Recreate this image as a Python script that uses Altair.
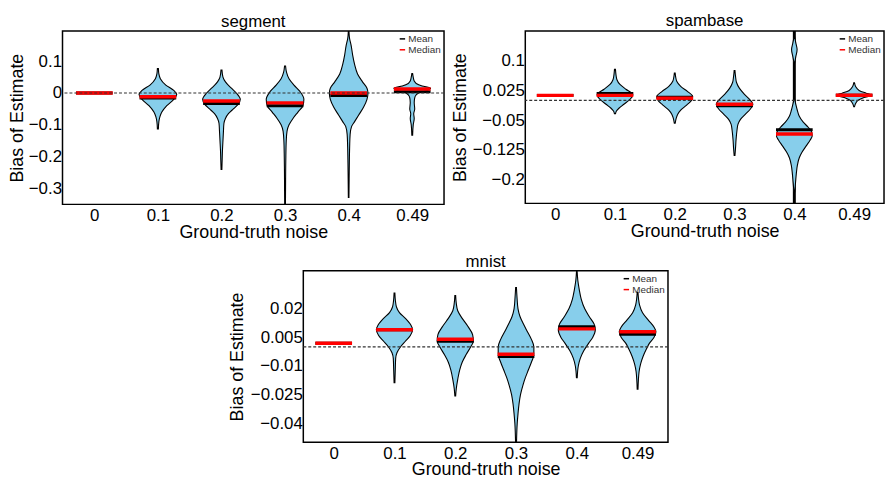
import altair as alt
import pandas as pd

FONT = "Liberation Sans"
categories = ["0", "0.1", "0.2", "0.3", "0.4", "0.49"]

# ---------------- segment ----------------
segment_mean = [0.0, -0.016, -0.033, -0.040, -0.008, 0.004]
segment_median = [0.0, -0.012, -0.025, -0.031, 0.0, 0.0125]
segment_y = [
    [],
    [0.077, 0.06, 0.045, 0.025, 0.008, -0.005, -0.02, -0.04, -0.06, -0.075, -0.09, -0.113],
    [0.072, 0.05, 0.035, 0.015, 0.0, -0.02, -0.035, -0.05, -0.065, -0.08, -0.095, -0.12, -0.15, -0.18, -0.21, -0.24],
    [0.085, 0.065, 0.045, 0.025, 0.005, -0.02, -0.04, -0.06, -0.08, -0.1, -0.12, -0.15, -0.2, -0.25, -0.3, -0.35],
    [0.195, 0.17, 0.15, 0.12, 0.09, 0.06, 0.035, 0.015, 0.0, -0.02, -0.045, -0.07, -0.09, -0.105, -0.13, -0.17, -0.22, -0.27, -0.328],
    [0.061, 0.05, 0.038, 0.03, 0.022, 0.015, 0.008, 0.002, -0.006, -0.015, -0.03, -0.05, -0.065, -0.08, -0.1, -0.133],
]
segment_w = [
    [],
    [0.5, 1, 2.5, 8, 16, 19, 16, 9, 4, 2, 1, 0.5],
    [0.5, 1.5, 4, 10, 15, 19, 17, 12, 7, 4, 2.5, 2, 1.5, 1, 0.7, 0.4],
    [0.5, 1.5, 4, 9, 15, 19, 18, 13, 8, 4, 2, 1.2, 0.8, 0.6, 0.5, 0.4],
    [0.3, 1, 2.5, 4, 6, 9, 14, 18.5, 19.5, 18.5, 15, 10, 6, 3, 1.5, 1, 0.7, 0.5, 0.3],
    [0.4, 1, 2, 4, 10, 18.5, 15, 8, 4, 2.5, 2, 2.5, 1.5, 2, 1, 0.4],
]

# ---------------- spambase ----------------
spambase_mean = [0.0125, 0.0175, 0.0075, -0.014, -0.074, 0.013]
spambase_median = [0.0125, 0.0125, 0.005, -0.01, -0.085, 0.013]
spambase_y = [
    [],
    [0.078, 0.065, 0.052, 0.04, 0.028, 0.018, 0.012, 0.0, -0.01, -0.02, -0.027, -0.034],
    [0.069, 0.058, 0.048, 0.035, 0.022, 0.01, 0.0, -0.012, -0.025, -0.035, -0.045, -0.058],
    [0.075, 0.06, 0.045, 0.03, 0.015, 0.0, -0.01, -0.022, -0.035, -0.048, -0.06, -0.075, -0.1, -0.12, -0.139],
    [0.003, -0.01, -0.025, -0.04, -0.055, -0.068, -0.08, -0.09, -0.1, -0.115, -0.13, -0.145, -0.165, -0.185, -0.205, -0.231],
    [0.044, 0.035, 0.025, 0.018, 0.013, 0.007, 0.0, -0.008, -0.016],
]
spambase_w = [
    [],
    [0.5, 1, 2, 5, 11, 17, 18, 14, 9, 4, 1.5, 0.5],
    [0.4, 1, 2, 6, 13, 18, 17, 12, 6, 3, 1.5, 0.4],
    [0.4, 1, 2, 5, 10, 16, 18.5, 16, 11, 6, 3.5, 2.5, 1.5, 1, 0.4],
    [0.3, 1.5, 3, 5, 9, 14, 17.5, 18, 16, 12, 8, 5, 3, 2, 1.3, 0.4],
    [0.4, 1.5, 5, 12, 17.7, 10, 4, 1.5, 0.4],
]
# detached upper blob of the 0.4 violin and its full-height whisker
spambase_blob_y = [0.16, 0.145, 0.128, 0.11, 0.094]
spambase_blob_w = [0.3, 1.5, 2.8, 1.5, 0.3]
spambase_whisker = [4, -0.26, 0.175]

# ---------------- mnist ----------------
mnist_mean = [0.002, 0.009, 0.003, -0.005, 0.0106, 0.0067]
mnist_median = [0.002, 0.009, 0.004, -0.0038, 0.0095, 0.008]
mnist_y = [
    [],
    [0.0283, 0.024, 0.021, 0.018, 0.015, 0.0115, 0.009, 0.006, 0.003, 0.0, -0.003, -0.006, -0.012, -0.0188],
    [0.027, 0.023, 0.019, 0.015, 0.011, 0.0065, 0.003, 0.0, -0.004, -0.008, -0.012, -0.017, -0.022, -0.0257],
    [0.0312, 0.026, 0.02, 0.016, 0.012, 0.008, 0.004, 0.0, -0.004, -0.008, -0.012, -0.016, -0.02, -0.025, -0.03, -0.035, -0.04, -0.0498],
    [0.0398, 0.035, 0.03, 0.025, 0.02, 0.016, 0.012, 0.009, 0.005, 0.002, -0.002, -0.006, -0.01, -0.0162],
    [0.0287, 0.025, 0.022, 0.018, 0.014, 0.0105, 0.008, 0.005, 0.002, -0.001, -0.005, -0.009, -0.013, -0.0222],
]
mnist_w = [
    [],
    [0.4, 1, 2, 5, 11, 16.5, 18.3, 16, 11, 6, 2.5, 1.2, 0.8, 0.4],
    [0.4, 1, 2.5, 7, 12.5, 17.5, 18.3, 15.5, 11, 7, 4.5, 2.5, 1, 0.4],
    [0.4, 1, 2, 4, 7.5, 11.5, 15.5, 18, 18, 15.5, 12.5, 9.5, 7, 4.5, 3, 2, 1.2, 0.5],
    [0.3, 1, 2.5, 4.5, 8, 12.5, 17.5, 18.7, 16, 12, 7, 3.5, 1.5, 0.4],
    [0.4, 1, 2, 5, 11, 16.5, 18.5, 16.5, 12, 9, 5.5, 3, 1.5, 0.4],
]

LINE_HALF_PX = 18.5
FILL = "#87CEEB"
label_expr = "[" + ",".join("'%s'" % c for c in categories) + "][datum.value]"


def panel(name, ys, ws, means, medians, domain, ticks, width, height, title_x,
          blob=None, whisker=None):
    band = width / len(categories)
    rows = []
    for i, (yv, wv) in enumerate(zip(ys, ws)):
        for y, w in zip(yv, wv):
            rows.append({"piece": str(i), "y": y, "xl": i - w / band, "xr": i + w / band})
    if blob is not None:
        bi, by, bw = blob
        for y, w in zip(by, bw):
            rows.append({"piece": "blob", "y": y, "xl": bi - w / band, "xr": bi + w / band})
    vdf = pd.DataFrame(rows)

    hw = LINE_HALF_PX / band
    sdf = pd.DataFrame(
        [{"stat": "Mean", "y": m, "x1": i - hw, "x2": i + hw} for i, m in enumerate(means)]
        + [{"stat": "Median", "y": m, "x1": i - hw, "x2": i + hw} for i, m in enumerate(medians)]
    )

    xscale = alt.Scale(domain=[-0.5, len(categories) - 0.5], nice=False, zero=False)
    yscale = alt.Scale(domain=domain, nice=False, zero=False)
    xaxis = alt.Axis(values=list(range(len(categories))), labelExpr=label_expr,
                     title="Ground-truth noise", labelPadding=3, ticks=False, domain=False,
                     grid=False, labelFontSize=17, titleFontSize=18, labelFont=FONT,
                     titleFont=FONT, titleFontWeight="normal", labelColor="black",
                     titleColor="black", titleY=33, titleBaseline="alphabetic")
    yaxis = alt.Axis(values=ticks, format=".3~f", title="Bias of Estimate", labelPadding=1,
                     ticks=False, domain=False, grid=False, labelFontSize=17, titleFontSize=18,
                     labelFont=FONT, titleFont=FONT, titleFontWeight="normal",
                     labelColor="black", titleColor="black", titleX=title_x,
                     titleBaseline="alphabetic")

    violins = alt.Chart(vdf).mark_area(
        orient="horizontal", interpolate="monotone", fill=FILL, stroke="black",
        strokeWidth=1.1, clip=True
    ).encode(
        y=alt.Y("y:Q", scale=yscale, axis=yaxis),
        x=alt.X("xl:Q", scale=xscale, axis=xaxis),
        x2="xr:Q",
        detail="piece:N",
    )

    color = alt.Color("stat:N", scale=alt.Scale(domain=["Mean", "Median"], range=["black", "red"]),
                      legend=alt.Legend(orient="top-right", title=None, symbolType="stroke",
                                        symbolSize=30, symbolStrokeWidth=1.5, labelFontSize=10,
                                        labelFont=FONT, labelColor="#333", rowPadding=1,
                                        offset=3, padding=0, labelOffset=1))
    mean_rule = alt.Chart(sdf[sdf.stat == "Mean"]).mark_rule(strokeWidth=3).encode(
        y="y:Q", x="x1:Q", x2="x2:Q", color=color)
    med_rule = alt.Chart(sdf[sdf.stat == "Median"]).mark_rule(strokeWidth=3.5).encode(
        y="y:Q", x="x1:Q", x2="x2:Q", color=color)
    zero = alt.Chart(pd.DataFrame({"z": [0.0]})).mark_rule(
        strokeDash=[3, 2], strokeWidth=1.2, color="#333").encode(y="z:Q")

    layers = []
    if whisker is not None:
        wdf = pd.DataFrame({"x": [whisker[0]], "lo": [whisker[1]], "hi": [whisker[2]]})
        layers.append(alt.Chart(wdf).mark_rule(strokeWidth=3, color="black").encode(
            x=alt.X("x:Q", scale=xscale, axis=xaxis),
            y=alt.Y("lo:Q", scale=yscale, axis=yaxis), y2="hi:Q"))
    layers += [violins, mean_rule, med_rule, zero]
    return alt.layer(*layers).properties(
        width=width, height=height,
        title=alt.TitleParams(name, fontSize=17, font=FONT, fontWeight="normal",
                              color="black", offset=0),
    )


seg = panel("segment", segment_y, segment_w, segment_mean, segment_median,
            [-0.35, 0.195], [-0.3, -0.2, -0.1, 0, 0.1], 385, 175, -40)
spam = panel("spambase", spambase_y, spambase_w, spambase_mean, spambase_median,
             [-0.26, 0.175], [-0.2, -0.125, -0.05, 0.025, 0.1], 362, 174, -60,
             blob=(4, spambase_blob_y, spambase_blob_w), whisker=spambase_whisker)
mn = panel("mnist", mnist_y, mnist_w, mnist_mean, mnist_median,
           [-0.05, 0.04], [-0.04, -0.025, -0.01, 0.005, 0.02], 368, 173, -61)

# invisible spacer that places the bottom panel in the middle of the page
spacer = alt.Chart(pd.DataFrame({"a": [0]})).mark_point(opacity=0).encode(
    x=alt.X("a:Q", axis=None), y=alt.Y("a:Q", axis=None)
).properties(width=166, height=10, view=alt.ViewBackground(stroke="transparent"))

top = alt.hconcat(seg, spam, spacing=5).resolve_scale(color="independent").resolve_legend(color="independent")
bottom = alt.hconcat(spacer, mn, spacing=0).resolve_scale(color="independent").resolve_legend(color="independent")
chart = alt.vconcat(top, bottom, spacing=10).resolve_scale(
    color="independent").resolve_legend(color="independent").properties(
    padding=0).configure(background="white").configure_view(stroke="black", strokeWidth=1.5)

chart.save("out.html", embed_options={"renderer": "svg", "actions": False})
